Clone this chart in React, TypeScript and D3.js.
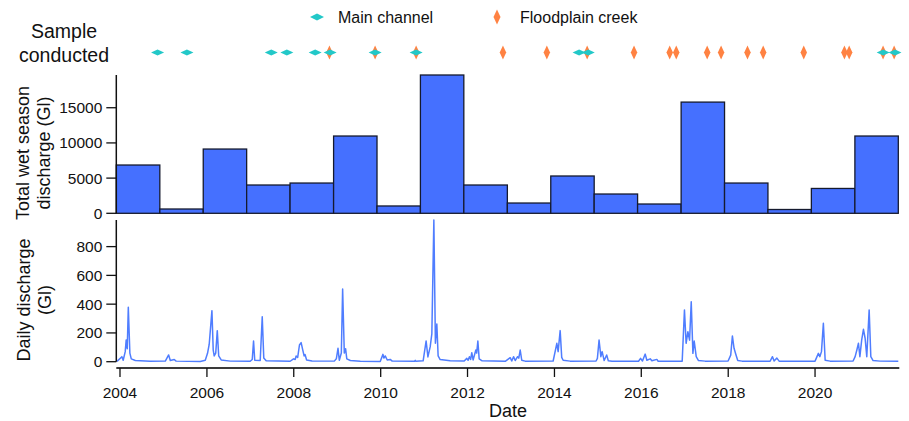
import React from "react";
import * as d3 from "d3";

// Wet seasons run 1 December to 30 November; label = starting year
const seasonStartYears = [2003, 2004, 2005, 2006, 2007, 2008, 2009, 2010, 2011, 2012, 2013, 2014, 2015, 2016, 2017, 2018, 2019, 2020];
const seasonTotals = [6860, 610, 9130, 4020, 4300, 10980, 1040, 19650, 4020, 1460, 5300, 2740, 1320, 15800, 4300, 540, 3530, 10980];

// Sampling events
const mainChannelDates = [
  "2004-11-12", "2005-07-17", "2007-06-26", "2007-11-04", "2008-06-29", "2008-11-02",
  "2009-11-15", "2010-10-26", "2014-07-27", "2014-10-12", "2021-07-27", "2021-11-03",
];
const floodplainDates = [
  "2008-10-27", "2009-11-15", "2010-10-26", "2012-10-25", "2013-10-29", "2014-10-03",
  "2015-11-01", "2016-08-27", "2016-10-21", "2017-07-08", "2017-11-02", "2018-06-12",
  "2018-10-22", "2019-09-28", "2020-09-04", "2020-10-14", "2021-07-26", "2021-10-27",
];

// Daily discharge record (Gl/day)
const dailyDischarge: [string, number][] = [
  ["2003-12-07", 2], ["2004-01-17", 35], ["2004-01-28", 10], ["2004-02-14", 70], ["2004-02-22", 150],
  ["2004-03-02", 90], ["2004-03-11", 378], ["2004-03-24", 60], ["2004-04-05", 20], ["2004-05-09", 8],
  ["2004-06-20", 6], ["2004-09-12", 3], ["2005-01-16", 4], ["2005-02-13", 47], ["2005-02-27", 8],
  ["2005-04-01", 15], ["2005-04-17", 4], ["2005-11-06", 2], ["2005-12-18", 10], ["2006-01-06", 58],
  ["2006-01-20", 120], ["2006-02-12", 355], ["2006-02-23", 80], ["2006-03-03", 40], ["2006-03-16", 60],
  ["2006-03-29", 216], ["2006-04-10", 40], ["2006-05-01", 12], ["2006-07-16", 4], ["2006-12-31", 3],
  ["2007-01-17", 15], ["2007-01-28", 144], ["2007-02-07", 10], ["2007-03-25", 8], ["2007-04-11", 313],
  ["2007-04-24", 25], ["2007-05-14", 6], ["2007-12-02", 3], ["2007-12-30", 20], ["2008-01-13", 15],
  ["2008-01-21", 40], ["2008-02-03", 30], ["2008-02-18", 116], ["2008-03-03", 133], ["2008-03-17", 80],
  ["2008-03-28", 40], ["2008-04-05", 50], ["2008-04-18", 12], ["2008-06-03", 5], ["2008-12-07", 4],
  ["2008-12-24", 20], ["2009-01-07", 93], ["2009-01-18", 10], ["2009-02-04", 60], ["2009-02-15", 506],
  ["2009-03-01", 60], ["2009-03-12", 90], ["2009-03-22", 20], ["2009-04-21", 8], ["2009-07-14", 3],
  ["2009-12-28", 2], ["2010-01-20", 51], ["2010-01-28", 25], ["2010-02-08", 40], ["2010-02-25", 12],
  ["2010-03-22", 16], ["2010-04-08", 4], ["2010-10-12", 3], ["2010-10-18", 9], ["2010-10-24", 3],
  ["2010-12-24", 6], ["2011-01-18", 144], ["2011-02-02", 33], ["2011-02-21", 103], ["2011-03-07", 193],
  ["2011-03-24", 985], ["2011-04-06", 128], ["2011-04-18", 262], ["2011-04-29", 40], ["2011-05-16", 15],
  ["2011-08-08", 6], ["2011-12-04", 5], ["2011-12-26", 23], ["2012-01-06", 10], ["2012-01-17", 35],
  ["2012-01-27", 15], ["2012-02-06", 63], ["2012-02-17", 12], ["2012-03-11", 81], ["2012-03-18", 60],
  ["2012-03-28", 144], ["2012-04-08", 20], ["2012-05-03", 6], ["2012-11-13", 3], ["2012-12-25", 28],
  ["2013-01-07", 5], ["2013-01-22", 35], ["2013-02-05", 8], ["2013-02-25", 35], ["2013-03-07", 25],
  ["2013-03-19", 81], ["2013-04-01", 10], ["2013-04-30", 4], ["2013-12-21", 5], ["2014-01-21", 128],
  ["2014-02-01", 70], ["2014-02-18", 216], ["2014-03-03", 30], ["2014-03-15", 10], ["2014-05-13", 4],
  ["2014-12-17", 5], ["2014-12-28", 23], ["2015-01-11", 151], ["2015-01-26", 35], ["2015-02-06", 70],
  ["2015-02-23", 8], ["2015-03-16", 47], ["2015-03-30", 6], ["2015-04-30", 3], ["2015-12-09", 3],
  ["2015-12-26", 23], ["2016-01-11", 5], ["2016-02-03", 53], ["2016-02-17", 10], ["2016-03-16", 20],
  ["2016-03-30", 6], ["2016-05-11", 16], ["2016-05-22", 3], ["2016-12-10", 4], ["2016-12-29", 360],
  ["2017-01-12", 128], ["2017-01-27", 209], ["2017-02-10", 150], ["2017-02-24", 417], ["2017-03-10", 58],
  ["2017-03-21", 144], ["2017-04-07", 35], ["2017-04-26", 8], ["2017-06-21", 4], ["2017-12-31", 5],
  ["2018-01-22", 46], ["2018-02-05", 179], ["2018-02-19", 93], ["2018-03-05", 53], ["2018-03-22", 8],
  ["2018-04-27", 4], ["2018-12-19", 3], ["2019-01-08", 35], ["2019-01-22", 5], ["2019-02-14", 25],
  ["2019-03-05", 4], ["2020-01-01", 4], ["2020-01-29", 58], ["2020-02-10", 35], ["2020-02-24", 70],
  ["2020-03-11", 267], ["2020-03-26", 10], ["2020-05-07", 4], ["2020-11-16", 5], ["2020-12-03", 35],
  ["2020-12-17", 80], ["2020-12-31", 128], ["2021-01-12", 35], ["2021-01-27", 150], ["2021-02-11", 225],
  ["2021-02-25", 163], ["2021-03-11", 35], ["2021-03-31", 360], ["2021-04-14", 35], ["2021-05-03", 8],
  ["2021-07-01", 4], ["2021-12-01", 3],
];

const seasonTicks = [0, 5000, 10000, 15000];
const dailyTicks = [0, 200, 400, 600, 800];
const yearTicks = [2004, 2006, 2008, 2010, 2012, 2014, 2016, 2018, 2020];

const W = 909;
const H = 421;
const FONT = "'Liberation Sans', Arial, Helvetica, sans-serif";
const BAR_FILL = "#4570ff";
const LINE_BLUE = "#4f7dff";
const TEAL = "#22c8c8";
const ORANGE = "#ff8242";

const parse = d3.timeParse("%Y-%m-%d");

const diamond = (w: number, h: number) => `M0,${-h / 2}L${w / 2},0L0,${h / 2}L${-w / 2},0Z`;

export default function App() {
  const x = d3
    .scaleTime()
    .domain([new Date(2003, 11, 1), new Date(2021, 11, 1)])
    .range([116.3, 898.3]);

  const yBar = d3.scaleLinear().domain([0, d3.max(seasonTotals) as number]).range([213.3, 75]);
  const yDay = d3.scaleLinear().domain([0, d3.max(dailyDischarge, (d) => d[1]) as number]).range([361.7, 220]);

  const seasons = seasonStartYears.map((yr, i) => ({
    x0: x(new Date(yr, 11, 1)),
    x1: x(new Date(yr + 1, 11, 1)),
    v: seasonTotals[i],
  }));

  const line = d3
    .line<[string, number]>()
    .x((d) => x(parse(d[0]) as Date))
    .y((d) => yDay(d[1]));

  const axisX = x.range()[0];
  const xAxisY = 368;
  const stripY = 52.5;

  return (
    <div style={{ position: "absolute", left: 0, top: 0 }}>
      <svg width={W} height={H} style={{ display: "block", background: "#fff" }} fontFamily={FONT}>
        {/* Legend */}
        <g>
          <path d={diamond(14, 7)} transform="translate(317,17)" fill={TEAL} />
          <text x={338} y={22.5} fontSize={16} fill="#111">Main channel</text>
          <path d={diamond(7, 15)} transform="translate(497,17)" fill={ORANGE} />
          <text x={520} y={22.5} fontSize={16} fill="#111">Floodplain creek</text>
        </g>

        {/* Sampling strip */}
        <g>
          <text x={64} y={38} fontSize={19.5} textAnchor="middle" fill="#111">Sample</text>
          <text x={64} y={62} fontSize={19.5} textAnchor="middle" fill="#111">conducted</text>
          {floodplainDates.map((d, i) => (
            <path key={`f${i}`} d={diamond(6.5, 14)} transform={`translate(${x(parse(d) as Date)},${stripY})`} fill={ORANGE} />
          ))}
          {mainChannelDates.map((d, i) => (
            <path key={`m${i}`} d={diamond(13, 6)} transform={`translate(${x(parse(d) as Date)},${stripY})`} fill={TEAL} />
          ))}
        </g>

        {/* Wet season totals */}
        <g>
          {seasons.map((s, i) => (
            <rect
              key={i}
              x={s.x0}
              y={yBar(s.v)}
              width={s.x1 - s.x0}
              height={yBar(0) - yBar(s.v)}
              fill={BAR_FILL}
              stroke="#151a2e"
              strokeWidth={1.3}
            />
          ))}
          <line x1={axisX} x2={axisX} y1={75} y2={yBar(0)} stroke="#111" strokeWidth={1.5} />
          {seasonTicks.map((t) => (
            <g key={t} transform={`translate(0,${yBar(t)})`}>
              <line x1={axisX - 10} x2={axisX} stroke="#111" strokeWidth={1.3} />
              <text x={axisX - 14} dy="0.35em" fontSize={15.5} textAnchor="end" fill="#111">{t}</text>
            </g>
          ))}
          <g transform="translate(23,153) rotate(-90)">
            <text textAnchor="middle" dy="0.35em" fontSize={18} fill="#111">Total wet season</text>
          </g>
          <g transform="translate(44,153) rotate(-90)">
            <text textAnchor="middle" dy="0.35em" fontSize={18} fill="#111">discharge (Gl)</text>
          </g>
        </g>

        {/* Daily discharge */}
        <g>
          <path d={line(dailyDischarge) || ""} fill="none" stroke={LINE_BLUE} strokeWidth={1.5} strokeLinejoin="round" />
          <line x1={axisX} x2={axisX} y1={220} y2={yDay(0)} stroke="#111" strokeWidth={1.5} />
          {dailyTicks.map((t) => (
            <g key={t} transform={`translate(0,${yDay(t)})`}>
              <line x1={axisX - 10} x2={axisX} stroke="#111" strokeWidth={1.3} />
              <text x={axisX - 14} dy="0.35em" fontSize={15.5} textAnchor="end" fill="#111">{t}</text>
            </g>
          ))}
          <g transform="translate(24,300) rotate(-90)">
            <text textAnchor="middle" dy="0.35em" fontSize={18} fill="#111">Daily discharge</text>
          </g>
          <g transform="translate(45,300) rotate(-90)">
            <text textAnchor="middle" dy="0.35em" fontSize={18} fill="#111">(Gl)</text>
          </g>

          {/* Date axis */}
          <line x1={axisX} x2={x.range()[1] + 1} y1={xAxisY} y2={xAxisY} stroke="#3a3a3a" strokeWidth={1.8} />
          {yearTicks.map((yr) => {
            const tx = x(new Date(yr, 0, 1));
            return (
              <g key={yr} transform={`translate(${tx},0)`}>
                <line y1={xAxisY} y2={xAxisY + 9} stroke="#111" strokeWidth={1.3} />
                <text y={398} fontSize={15.5} textAnchor="middle" fill="#111">{yr}</text>
              </g>
            );
          })}
          <text x={508} y={417} fontSize={18} textAnchor="middle" fill="#111">Date</text>
        </g>
      </svg>
    </div>
  );
}
